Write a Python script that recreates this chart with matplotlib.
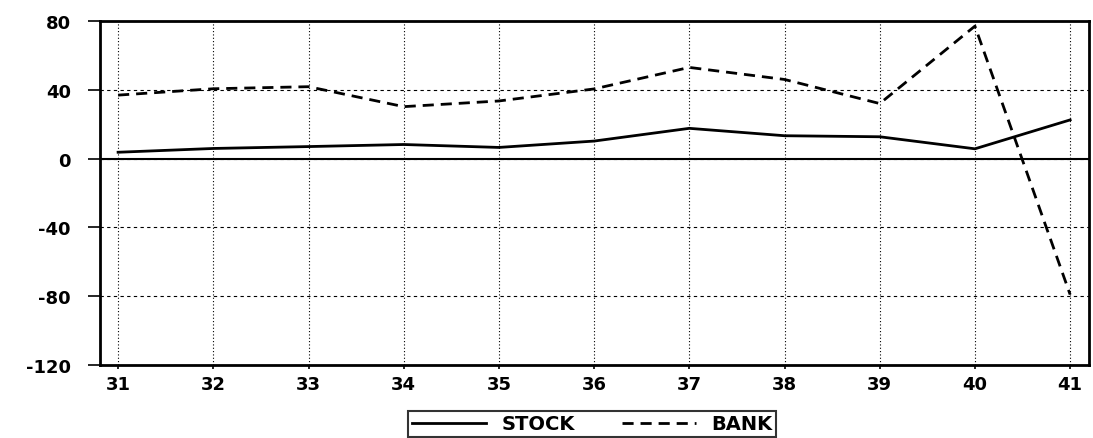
import matplotlib.pyplot as plt

# datos
periodos = [31, 32, 33, 34, 35, 36, 37, 38, 39, 40, 41]
stock = [3.7, 5.9, 7.0, 8.2, 6.5, 10.2, 17.6, 13.3, 12.7, 5.7, 22.5]
bank = [36.9, 40.6, 41.8, 30.2, 33.5, 40.5, 53.0, 46.0, 32.0, 77.0, -79.0]
yticks = [80, 40, 0, -40, -80, -120]

plt.rcParams['font.family'] = ['DejaVu Sans']
plt.rcParams['font.weight'] = 'bold'
plt.rcParams['axes.unicode_minus'] = False

fig = plt.figure(figsize=(10.93, 4.39), dpi=100)
ax = fig.add_axes([0.0915, 0.166, 0.905, 0.784])

ax.plot(periodos, stock, color='black', lw=2, label='STOCK')
ax.plot(periodos, bank, color='black', lw=2, ls=(0, (4, 2.5)), label='BANK')
ax.axhline(0, color='black', lw=1.5)

ax.set_xlim(30.81, 41.2)
ax.set_ylim(-120, 80)
ax.set_xticks(periodos)
ax.set_yticks(yticks)

# rejilla
ax.grid(axis='x', color='black', lw=0.8, ls=(0, (1, 2)))
ax.grid(axis='y', color='black', lw=0.8, ls=(0, (3, 3)))

for s in ax.spines.values():
    s.set_linewidth(2)
ax.tick_params(axis='y', direction='out', length=9, width=1.2, pad=12, labelsize=13)
ax.tick_params(axis='x', direction='out', length=3, width=1.2, pad=4, labelsize=13)
for lbl in ax.get_xticklabels() + ax.get_yticklabels():
    lbl.set_fontweight('bold')

leg = fig.legend(loc='center', bbox_to_anchor=(0.542, 0.032), ncol=2,
                 frameon=True, fancybox=False, edgecolor='black',
                 prop={'weight': 'bold', 'size': 14}, handlelength=3.8,
                 handletextpad=0.8, columnspacing=2.4, borderpad=0.2,
                 borderaxespad=0)
leg.get_frame().set_linewidth(1.5)

plt.savefig('out.png', dpi=100)
